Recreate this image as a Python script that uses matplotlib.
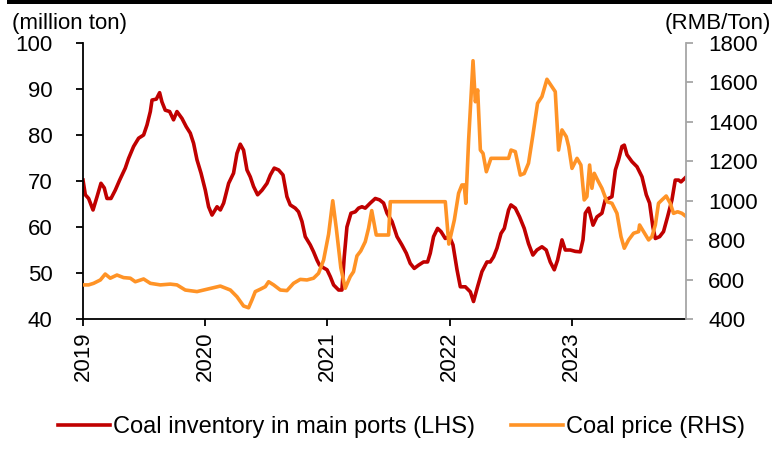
import matplotlib
matplotlib.use("Agg")
import matplotlib.pyplot as plt
from matplotlib.patches import Rectangle

plt.rcParams['font.family'] = ['Liberation Sans', 'DejaVu Sans']

RED = '#C00000'
ORANGE = '#FF9326'

# Coal inventory in main ports, million ton (time in decimal years)
inv_t = [2019.000, 2019.019, 2019.046, 2019.082, 2019.115, 2019.147, 2019.174, 2019.196,
         2019.229, 2019.264, 2019.300, 2019.346, 2019.373, 2019.414, 2019.455, 2019.496,
         2019.524, 2019.551, 2019.565, 2019.600, 2019.627, 2019.646, 2019.673, 2019.709,
         2019.741, 2019.769, 2019.810, 2019.845, 2019.878, 2019.905, 2019.933, 2019.966,
         2020.001, 2020.028, 2020.056, 2020.097, 2020.124, 2020.151, 2020.192, 2020.232,
         2020.260, 2020.287, 2020.314, 2020.342, 2020.369, 2020.396, 2020.429, 2020.465,
         2020.506, 2020.533, 2020.565, 2020.601, 2020.637, 2020.669, 2020.696, 2020.737,
         2020.764, 2020.792, 2020.819, 2020.860, 2020.887, 2020.915, 2020.936, 2020.964,
         2020.997, 2021.024, 2021.051, 2021.092, 2021.119, 2021.138, 2021.160, 2021.193,
         2021.228, 2021.255, 2021.283, 2021.310, 2021.351, 2021.392, 2021.427, 2021.460,
         2021.488, 2021.529, 2021.570, 2021.610, 2021.646, 2021.678, 2021.711, 2021.746,
         2021.787, 2021.820, 2021.842, 2021.869, 2021.902, 2021.930, 2021.965, 2022.000,
         2022.028, 2022.061, 2022.088, 2022.129, 2022.170, 2022.196, 2022.229, 2022.265,
         2022.306, 2022.333, 2022.360, 2022.388, 2022.421, 2022.448, 2022.483, 2022.502,
         2022.538, 2022.573, 2022.611, 2022.646, 2022.682, 2022.715, 2022.756, 2022.791,
         2022.824, 2022.857, 2022.884, 2022.920, 2022.947, 2022.988, 2023.029, 2023.070,
         2023.092, 2023.111, 2023.138, 2023.174, 2023.206, 2023.247, 2023.274, 2023.301,
         2023.329, 2023.357, 2023.383, 2023.411, 2023.430, 2023.452, 2023.493, 2023.534,
         2023.575, 2023.610, 2023.637, 2023.664, 2023.684, 2023.719, 2023.751, 2023.784,
         2023.820, 2023.847, 2023.875, 2023.894, 2023.929]
inventory = [70.2, 67.0, 66.2, 63.7, 66.6, 69.5, 68.5, 66.2,
             66.2, 68.0, 70.2, 72.8, 74.9, 77.5, 79.3, 80.0,
             82.2, 85.1, 87.6, 87.8, 89.2, 87.2, 85.4, 85.1,
             83.3, 85.1, 83.6, 81.8, 80.4, 78.2, 74.6, 71.7,
             68.0, 64.4, 62.6, 64.4, 63.7, 65.2, 69.5, 71.7,
             76.0, 78.0, 76.7, 72.4, 70.9, 68.8, 67.0, 68.0,
             69.5, 71.3, 72.8, 72.4, 71.3, 66.6, 64.8, 64.1,
             63.3, 61.2, 57.9, 56.1, 54.6, 52.8, 51.7, 51.2,
             50.7, 49.2, 47.4, 46.3, 46.3, 53.5, 60.0, 63.0,
             63.3, 64.1, 64.4, 64.1, 65.2, 66.2, 65.9, 65.2,
             63.0, 61.2, 57.9, 56.1, 54.3, 52.1, 51.0, 51.7,
             52.4, 52.4, 54.3, 57.9, 59.7, 59.0, 57.5, 57.9,
             56.1, 50.7, 47.0, 47.0, 45.9, 43.8, 47.0, 50.3,
             52.4, 52.4, 53.5, 55.4, 58.6, 59.7, 63.7, 64.8,
             64.1, 62.2, 59.7, 56.4, 53.9, 55.0, 55.7, 55.0,
             52.4, 50.7, 52.8, 57.2, 55.0, 55.0, 54.7, 54.6,
             57.2, 63.0, 64.1, 60.4, 62.2, 63.0, 65.9, 66.2,
             66.6, 72.4, 74.6, 77.5, 77.8, 75.7, 74.2, 73.1,
             70.9, 67.0, 65.2, 60.0, 57.5, 57.9, 59.0, 62.2,
             65.9, 70.2, 70.2, 69.8, 70.7]

# Coal price, RMB/ton
price_t = [2019.000, 2019.046, 2019.087, 2019.142, 2019.182, 2019.223, 2019.278, 2019.332,
           2019.387, 2019.428, 2019.496, 2019.551, 2019.633, 2019.714, 2019.769, 2019.837,
           2019.933, 2020.015, 2020.124, 2020.206, 2020.260, 2020.314, 2020.355, 2020.383,
           2020.410, 2020.451, 2020.492, 2020.519, 2020.560, 2020.615, 2020.669, 2020.723,
           2020.778, 2020.833, 2020.887, 2020.928, 2020.969, 2021.010, 2021.044, 2021.073,
           2021.110, 2021.146, 2021.187, 2021.214, 2021.242, 2021.273, 2021.310, 2021.337,
           2021.363, 2021.400, 2021.501, 2021.515, 2021.965, 2021.994, 2022.039, 2022.074,
           2022.101, 2022.120, 2022.133, 2022.156, 2022.192, 2022.211, 2022.230, 2022.252,
           2022.274, 2022.301, 2022.339, 2022.374, 2022.483, 2022.503, 2022.538, 2022.579,
           2022.611, 2022.646, 2022.682, 2022.720, 2022.756, 2022.797, 2022.838, 2022.865,
           2022.892, 2022.920, 2022.955, 2022.975, 2023.002, 2023.043, 2023.075, 2023.102,
           2023.124, 2023.146, 2023.165, 2023.184, 2023.211, 2023.247, 2023.288, 2023.329,
           2023.370, 2023.403, 2023.430, 2023.465, 2023.506, 2023.547, 2023.555, 2023.588,
           2023.629, 2023.656, 2023.684, 2023.710, 2023.738, 2023.773, 2023.806, 2023.833,
           2023.866, 2023.902, 2023.929]
price = [573, 573, 581, 598, 628, 607, 623, 610,
         607, 589, 603, 581, 573, 577, 573, 547,
         539, 551, 567, 547, 513, 466, 457, 497,
         539, 551, 564, 589, 573, 547, 544, 581,
         601, 598, 607, 632, 699, 830, 1000, 860,
         660, 556, 615, 640, 720, 745, 792, 860,
         950, 826, 826, 995, 995, 780, 902, 1038,
         1080, 1080, 987, 1308, 1710, 1502, 1562, 1257,
         1240, 1147, 1215, 1215, 1215, 1257, 1249, 1130,
         1138, 1190, 1333, 1494, 1528, 1616, 1578, 1553,
         1257, 1359, 1325, 1274, 1164, 1215, 1181, 1004,
         1021, 1181, 1063, 1139, 1105, 1063, 995, 987,
         936, 818, 759, 801, 835, 843, 877, 843,
         801, 818, 877, 987, 1004, 1024, 987, 936,
         944, 936, 923]

years = [2019, 2020, 2021, 2022, 2023]

fig = plt.figure(figsize=(7.72, 4.5), dpi=100)
ax = fig.add_axes([83 / 772, 1 - 319 / 450, (686 - 83) / 772, (319 - 43) / 450])
ax2 = ax.twinx()

l1, = ax.plot(inv_t, inventory, color=RED, lw=2.6, solid_joinstyle='round',
              label='Coal inventory in main ports (LHS)')
l2, = ax2.plot(price_t, price, color=ORANGE, lw=2.6, solid_joinstyle='round',
               label='Coal price (RHS)')

ax.set_xlim(2019.0, 2023.935)
ax.set_ylim(40, 100)
ax.set_yticks(range(40, 101, 10))
ax2.set_ylim(400, 1800)
ax2.set_yticks(range(400, 1801, 200))
ax.set_xticks(years)
ax.set_xticklabels([str(y) for y in years], rotation=90)

for s in ['top', 'right']:
    ax.spines[s].set_visible(False)
for s in ['top', 'left', 'bottom']:
    ax2.spines[s].set_visible(False)
ax.spines['left'].set_linewidth(1.3)
ax.spines['bottom'].set_linewidth(1.3)
ax2.spines['right'].set_color('#A6A6A6')
ax2.spines['right'].set_linewidth(1.3)

ax.tick_params(axis='y', direction='out', length=5, width=1.3, pad=17, labelsize=16)
ax.tick_params(axis='x', direction='out', length=5, width=1.3, pad=4, labelsize=16)
ax2.tick_params(axis='y', direction='out', length=5, width=1.3, color='#A6A6A6',
                pad=11, labelsize=16)

fig.text(12 / 772, 1 - 24 / 450, '(million ton)', fontsize=16, ha='left', va='center')
fig.text(771 / 772, 1 - 24 / 450, '(RMB/Ton)', fontsize=16, ha='right', va='center')

# black rule across the top
fig.add_artist(Rectangle((7 / 772, 1 - 4 / 450), 1, 4 / 450, transform=fig.transFigure,
                         color='black', lw=0))

fig.legend(handles=[l1, l2], loc='center', bbox_to_anchor=(0.52, 1 - 427 / 450), ncol=2,
           frameon=False, fontsize=17, handlelength=2.2, handletextpad=0.15,
           columnspacing=1.5)

fig.savefig('out.png', dpi=100)
